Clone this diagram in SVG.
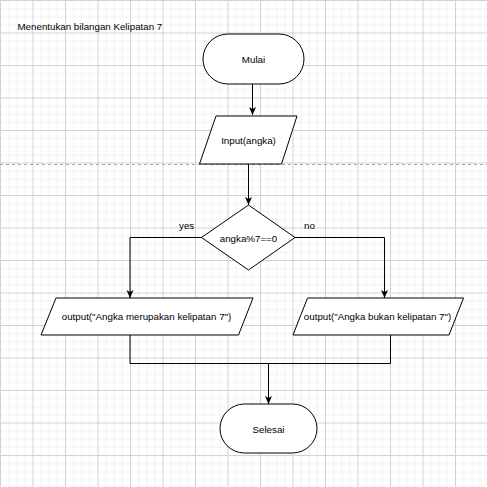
<svg xmlns="http://www.w3.org/2000/svg" width="487" height="487" viewBox="0 0 487 487">
  <defs>
    <pattern id="grid" patternUnits="userSpaceOnUse" x="0" y="0" width="32.5" height="32.5">
      <rect width="32.5" height="32.5" fill="#ffffff"/>
      <g fill="#f3f3f3">
        <rect x="8.125" y="0" width="1" height="32.5"/>
        <rect x="16.25" y="0" width="1" height="32.5"/>
        <rect x="24.375" y="0" width="1" height="32.5"/>
        <rect x="0" y="8.125" width="32.5" height="1"/>
        <rect x="0" y="16.25" width="32.5" height="1"/>
        <rect x="0" y="24.375" width="32.5" height="1"/>
      </g>
      <g fill="#d2d2d2">
        <rect x="0" y="0" width="1" height="32.5"/>
        <rect x="0" y="0" width="32.5" height="1"/>
      </g>
    </pattern>
    <marker id="arrow" markerUnits="userSpaceOnUse" markerWidth="10" markerHeight="10" refX="8" refY="4" orient="auto">
      <path d="M0,0.5 L8,4 L0,7.5 L2,4 Z" fill="#000"/>
    </marker>
    <style>
      .shape { fill: #ffffff; stroke: #000000; stroke-width: 1; }
      .edge { fill: none; stroke: #000000; stroke-width: 1; }
      .label { font-family: "Liberation Sans", Arial, sans-serif; font-size: 9.75px; fill: #000000; }
      .mid { text-anchor: middle; }
    </style>
  </defs>

  <!-- canvas grid and page break -->
  <rect x="0" y="0" width="487" height="487" fill="url(#grid)"/>
  <line x1="0" y1="164.5" x2="487" y2="164.5" stroke="#a8a8a8" stroke-width="1" stroke-dasharray="3,3"/>

  <text id="title" class="label" x="17.5" y="30">Menentukan bilangan Kelipatan 7</text>

  <!-- connectors -->
  <g id="connectors">
    <path class="edge" d="M252.5,84 L252.5,115" marker-end="url(#arrow)"/>
    <path class="edge" d="M248.5,164 L248.5,205" marker-end="url(#arrow)"/>
    <path class="edge" d="M201.5,237.5 L130,237.5 L130,298" marker-end="url(#arrow)"/>
    <path class="edge" d="M295,237.5 L384.5,237.5 L384.5,298" marker-end="url(#arrow)"/>
    <path class="edge" d="M130,335 L130,363.5 L390.5,363.5 L390.5,335"/>
    <path class="edge" d="M268.5,363.5 L268.5,404" marker-end="url(#arrow)"/>
    <text class="label" x="179" y="228.5">yes</text>
    <text class="label" x="304" y="228.5">no</text>
  </g>

  <g id="mulai">
    <rect class="shape" x="203" y="34" width="101" height="50" rx="25" ry="25"/>
    <text class="label mid" x="253.5" y="62.5">Mulai</text>
  </g>

  <g id="input">
    <polygon class="shape" points="216,116 297,116 281.5,164 199.5,164"/>
    <text class="label mid" x="248.5" y="143.5">Input(angka)</text>
  </g>

  <g id="decision">
    <polygon class="shape" points="248.5,205 295,237.5 248.5,270 201.5,237.5"/>
    <text class="label mid" x="248.5" y="241.5">angka%7==0</text>
  </g>

  <g id="output-yes">
    <polygon class="shape" points="56,298 253,298 238.5,335 41,335"/>
    <text class="label mid" x="146.5" y="320">output("Angka merupakan kelipatan 7")</text>
  </g>

  <g id="output-no">
    <polygon class="shape" points="307.5,298 463.5,298 449,335 293,335"/>
    <text class="label mid" x="377.5" y="320">output("Angka bukan kelipatan 7")</text>
  </g>

  <g id="selesai">
    <rect class="shape" x="220" y="404" width="97" height="49" rx="24.5" ry="24.5"/>
    <text class="label mid" x="268.5" y="432.5">Selesai</text>
  </g>
</svg>
